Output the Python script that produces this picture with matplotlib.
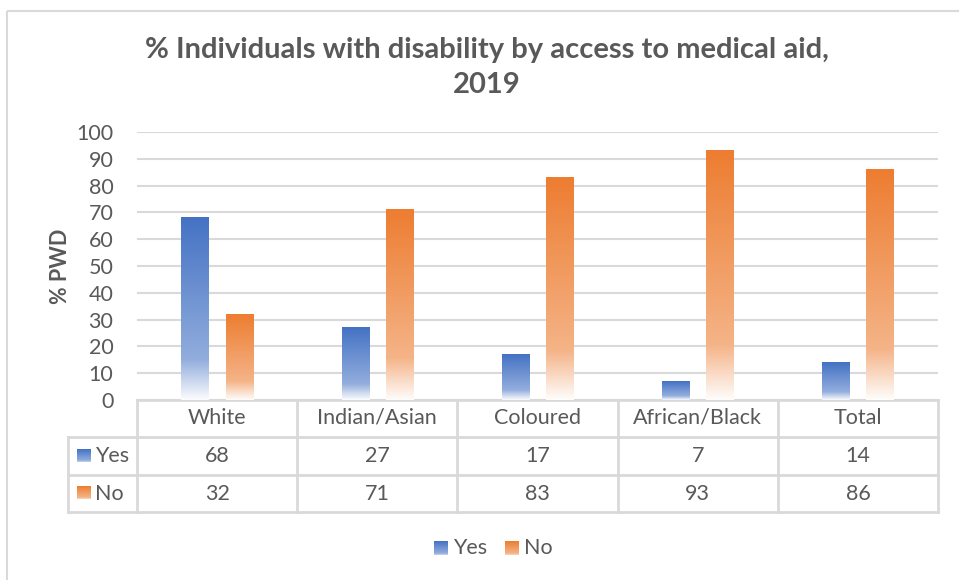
import numpy as np
import matplotlib.pyplot as plt
from matplotlib.colors import to_rgb
from matplotlib.patches import Rectangle

categorii = ['White', 'Indian/Asian', 'Coloured', 'African/Black', 'Total']
serii = ['Yes', 'No']
da = [68, 27, 17, 7, 14]
nu = [32, 71, 83, 93, 86]
culori = ['#4472C4', '#ED7D31']

plt.rcParams['font.family'] = ['Lato', 'DejaVu Sans']
gri_text = '#595959'
gri_linie = '#D9D9D9'
fs = 15.5

W, H = 959, 580
fig = plt.figure(figsize=(W / 100, H / 100), dpi=100)


def px(x0, y0, x1, y1):
    # dreptunghi in pixeli (sus-stanga) -> coordonate figura
    return [x0 / W, 1 - y1 / H, (x1 - x0) / W, (y1 - y0) / H]


# stratul de jos pentru chenar, tabel si legenda
fundal = fig.add_axes([0, 0, 1, 1])
fundal.set_xlim(0, W)
fundal.set_ylim(H, 0)
fundal.axis('off')
fundal.add_patch(Rectangle((7, 11), W + 10, H + 10, fill=False, ec=gri_linie, lw=1.5))

ax = fig.add_axes(px(137, 132, 938, 400))
ax.set_xlim(-0.5, len(categorii) - 0.5)
ax.set_ylim(0, 100)
ax.set_yticks(range(0, 101, 10))
ax.tick_params(axis='y', length=0, labelsize=fs, labelcolor=gri_text, pad=17)
ax.set_xticks([])
for s in ax.spines.values():
    s.set_visible(False)
ax.grid(axis='y', color=gri_linie, lw=1.5)
ax.set_axisbelow(True)
ax.set_ylabel('% PWD', fontsize=fs, fontweight='bold', color=gri_text, labelpad=4)
ax.patch.set_alpha(0)


def gradient(c):
    # culoare plina sus, se deschide spre baza si ajunge la alb
    t = np.linspace(0, 1, 200)
    amestec = np.where(t < 0.78, 0.42 * t / 0.78, 0.42 + 0.56 * (t - 0.78) / 0.22)
    rgb = np.array(to_rgb(c))
    img = rgb * (1 - amestec[:, None]) + amestec[:, None]
    return img[:, None, :]


latime = 0.17
dx = 0.1375
x = np.arange(len(categorii))
for valori, c, semn in [(da, culori[0], -1), (nu, culori[1], 1)]:
    bare = ax.bar(x + semn * dx, valori, width=latime, color='none', lw=0, zorder=3)
    for b in bare:
        x0 = b.get_x()
        h = b.get_height()
        ax.imshow(gradient(c), extent=[x0, x0 + latime, 0, h], aspect='auto',
                  zorder=2, interpolation='bilinear')
ax.set_xlim(-0.5, len(categorii) - 0.5)
ax.set_ylim(0, 100)

# tabelul de date sub axa
coloane = np.linspace(137, 938, len(categorii) + 1)
randuri = [400, 437, 475, 512]
st = 68
kw = dict(color=gri_linie, lw=2, solid_capstyle='projecting')
fundal.plot([137, 938], [400, 400], **kw)
for y in randuri[1:]:
    fundal.plot([st, 938], [y, y], **kw)
for xc in coloane:
    fundal.plot([xc, xc], [400, 512], **kw)
fundal.plot([st, st], [437, 512], **kw)

for i, cat in enumerate(categorii):
    xc = (coloane[i] + coloane[i + 1]) / 2
    fundal.text(xc, 418, cat, ha='center', va='center', fontsize=fs, color=gri_text)
    fundal.text(xc, 456, str(da[i]), ha='center', va='center', fontsize=fs, color=gri_text)
    fundal.text(xc, 494, str(nu[i]), ha='center', va='center', fontsize=fs, color=gri_text)

for j, (nume, c) in enumerate(zip(serii, culori)):
    yc = (randuri[j + 1] + randuri[j + 2]) / 2
    fundal.imshow(gradient(c)[::3][:60], extent=[77, 91, yc + 6, yc - 7], aspect='auto', zorder=3)
    fundal.text(95, yc, nume, ha='left', va='center', fontsize=fs, color=gri_text)

# legenda
for (nume, c, xl) in zip(serii, culori, [434, 505]):
    fundal.imshow(gradient(c)[::3][:60], extent=[xl, xl + 14, 555, 541], aspect='auto', zorder=3)
    fundal.text(xl + 19, 548, nume, ha='left', va='center', fontsize=fs, color=gri_text)

fundal.set_xlim(0, W)
fundal.set_ylim(H, 0)

fig.text(487 / W, 1 - 50 / H, '% Individuals with disability by access to medical aid,',
         ha='center', va='center', fontsize=21, fontweight='bold', color=gri_text)
fig.text(487 / W, 1 - 85 / H, '2019', ha='center', va='center', fontsize=21,
         fontweight='bold', color=gri_text)

fig.savefig('out.png', dpi=100)
